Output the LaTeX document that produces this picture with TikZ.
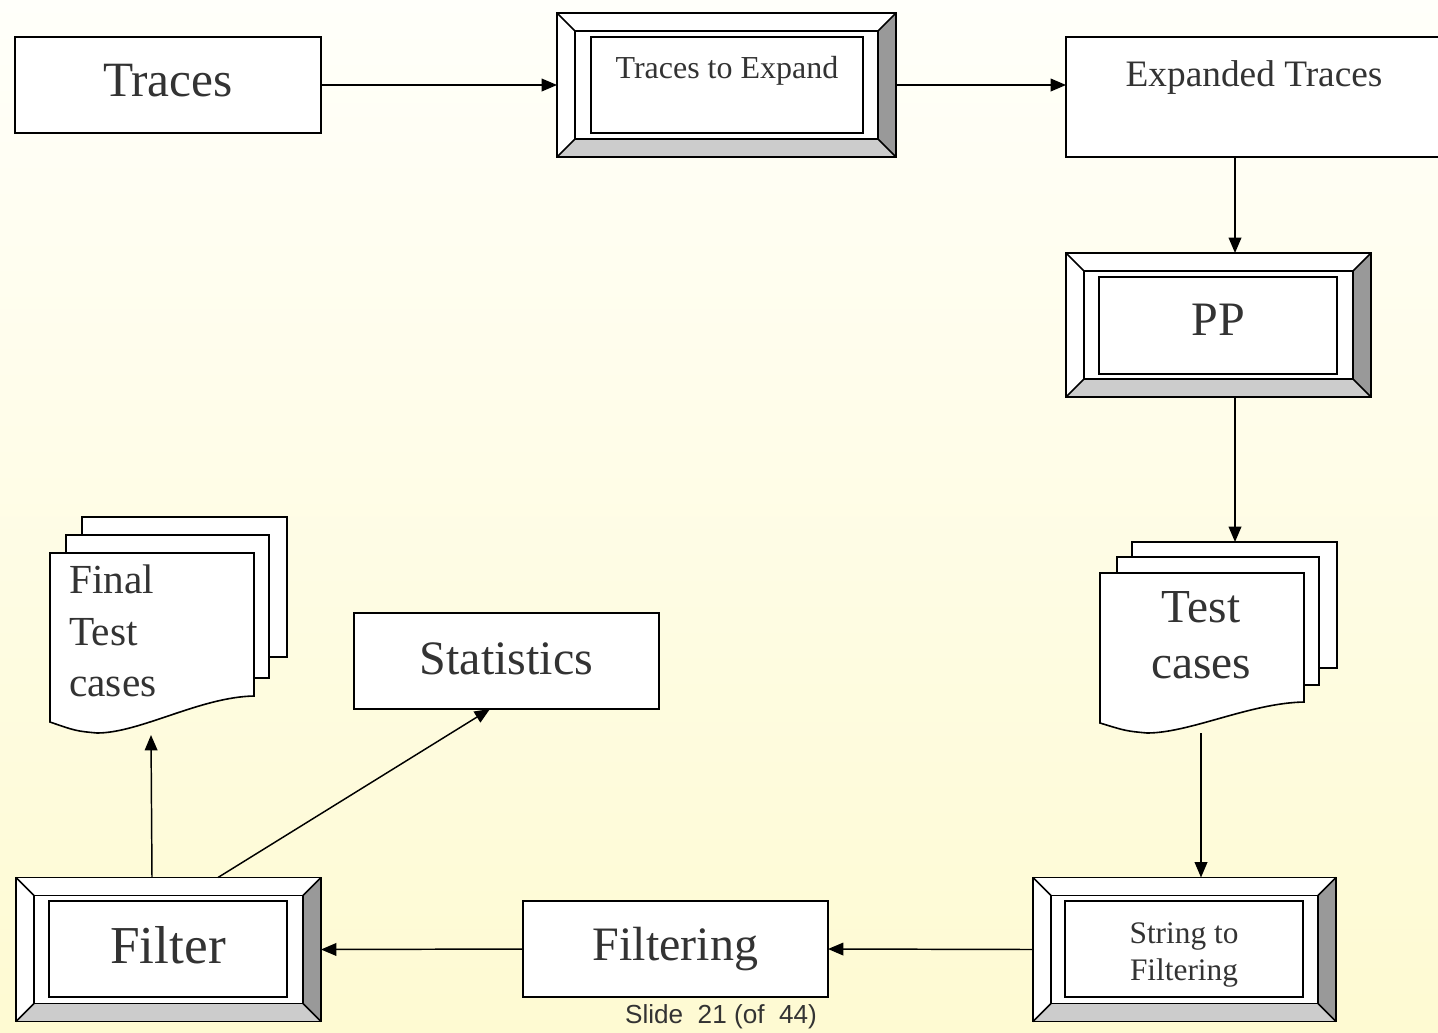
\documentclass[tikz,border=0pt]{standalone}
\usepackage{fontspec}
\setmainfont{Liberation Serif}
\newfontfamily\footfont{Liberation Sans}
\usetikzlibrary{arrows.meta,calc}

\definecolor{bgtop}{RGB}{255,255,250}
\definecolor{bgbot}{RGB}{254,250,210}
\definecolor{ink}{RGB}{51,51,51}
\definecolor{bevside}{RGB}{153,153,153}
\definecolor{bevbase}{RGB}{204,204,204}

% bevel width of the framed process boxes
\newcommand\bw{13.5pt}

% shaded right/bottom faces, inner frame and corner mitres of a bevelled box
\newcommand\bevelpanels[1]{%
  \path[fill=bevside] (#1.north east) -- (#1.south east)
     -- ([shift={(-\bw,\bw)}]#1.south east) -- ([shift={(-\bw,-\bw)}]#1.north east) -- cycle;
  \path[fill=bevbase] (#1.south west) -- (#1.south east)
     -- ([shift={(-\bw,\bw)}]#1.south east) -- ([shift={(\bw,\bw)}]#1.south west) -- cycle;
  \draw[edge] ([shift={(\bw,-\bw)}]#1.north west) rectangle ([shift={(-\bw,\bw)}]#1.south east);
  \draw[edge] (#1.north west) -- ++(\bw,-\bw);
  \draw[edge] (#1.north east) -- ++(-\bw,-\bw);
  \draw[edge] (#1.south west) -- ++(\bw,\bw);
  \draw[edge] (#1.south east) -- ++(-\bw,\bw);
  \draw[edge] (#1.north west) rectangle (#1.south east);
}

\tikzset{
  edge/.style={draw=black, line width=1.2pt},
  plainbox/.style={edge, fill=white, inner sep=0pt, outer sep=0pt, text=ink},
  bevelbox/.style={edge, fill=white, inner sep=0pt, outer sep=0pt,
    minimum height=108pt},
  innerbox/.style={edge, fill=white, inner sep=0pt, outer sep=0pt, text=ink,
    minimum width=178.5pt, minimum height=72pt},
  sheet/.style={edge, fill=white},
  flow/.style={draw=black, line width=1.1pt, -{Triangle[length=11.5pt,width=9.5pt]}},
  label/.style={text=ink, inner sep=0pt},
}

\begin{document}
\begin{tikzpicture}[x=0.75pt, y=-0.75pt]
  % page background
  \useasboundingbox (0,0) rectangle (1438,1032);
  \shade[top color=bgtop, bottom color=bgbot] (0,0) rectangle (1438,1032);

  % ---- top row ----
  \node[plainbox, minimum width=229.5pt, minimum height=72pt,
        text height=44.25pt, text depth=27.75pt,
        font=\fontsize{37}{44}\selectfont] (traces) at (168,85) {Traces};

  \node[bevelbox, minimum width=254.25pt] (tte) at (726.5,85) {};
  \bevelpanels{tte}
  \node[innerbox, minimum width=204pt, text height=30.75pt, text depth=41.25pt,
        font=\fontsize{24}{29}\selectfont] (ttein) at (727,85) {Traces to Expand};

  \node[plainbox, minimum width=282pt, minimum height=90pt,
        text height=36.75pt, text depth=53.25pt,
        font=\fontsize{28}{34}\selectfont] (exp) at (1254,97) {Expanded Traces};

  % ---- right column ----
  \node[bevelbox, minimum width=228.75pt] (pp) at (1218.5,325) {};
  \bevelpanels{pp}
  \node[innerbox, minimum height=72.75pt, text height=43.5pt, text depth=29.25pt,
        font=\fontsize{36}{43}\selectfont] (ppin) at (1218,325.5) {PP};

  % stacked test-case documents
  \node[sheet, minimum width=153.75pt, minimum height=94.5pt, inner sep=0pt, outer sep=0pt]
        (tcback) at (1234.5,605) {};
  \draw[sheet] (1117,557) rectangle (1319,685);
  \draw[sheet] (1100,573) -- (1304,573) -- (1304,702)
     .. controls (1250,703) and (1190,733) .. (1147,733)
     .. controls (1126,731) .. (1100,723) -- cycle;
  \node[label, align=center, font=\fontsize{35.5}{42}\selectfont] (tctext) at (1201,635)
        {Test\\cases};
  \coordinate (tcbot) at (1201,733);

  \node[bevelbox, minimum width=227.25pt] (str) at (1184.5,949.5) {};
  \bevelpanels{str}
  \node[innerbox] (strin) at (1184,949) {};
  \node[label, align=center, font=\fontsize{23.5}{27.75}\selectfont] (strtext)
        at (1184,955) {String to\\Filtering};

  % ---- bottom row ----
  \node[plainbox, minimum width=228.75pt, minimum height=72pt,
        text height=44.25pt, text depth=27.75pt,
        font=\fontsize{36}{43}\selectfont] (filtering) at (675.5,949) {Filtering};

  \node[bevelbox, minimum width=228.75pt] (filter) at (168.5,949.5) {};
  \bevelpanels{filter}
  \node[innerbox, text height=46.5pt, text depth=25.5pt,
        font=\fontsize{40}{48}\selectfont] (filterin) at (168,949) {Filter};

  % ---- left outputs ----
  \draw[sheet] (82,517) rectangle (287,657);
  \draw[sheet] (66,535) rectangle (269,678);
  \draw[sheet] (50,553) -- (254,553) -- (254,696)
     .. controls (200,697) and (140,733) .. (97,733)
     .. controls (76,731) .. (50,722) -- cycle;
  \node[label, align=left, anchor=west, font=\fontsize{31}{38.5}\selectfont] (final)
        at (69,631) {Final\\Test\\cases};
  \coordinate (fbot) at (151,735);

  \node[plainbox, minimum width=228.75pt, minimum height=72pt,
        text height=45.75pt, text depth=26.25pt,
        font=\fontsize{36}{43}\selectfont] (stats) at (506.5,661) {Statistics};

  % ---- connectors ----
  \coordinate (colR) at (1235,0);
  \draw[flow] (traces.east) -- (tte.west);
  \draw[flow] (tte.east) -- (tte.east -| exp.west);
  \draw[flow] (exp.south -| colR) -- (pp.north -| colR);
  \draw[flow] (pp.south -| colR) -- (tcback.north -| colR);
  \draw[flow] (tcbot) -- (tcbot |- str.north);
  \draw[flow] (str.west) -- (filtering.east);
  \draw[flow] (filtering.west) -- (filter.east);
  \draw[flow] ([xshift=0.75pt]fbot |- filter.north) -- (fbot);
  \draw[flow] ([xshift=37.1pt]filter.north) -- ([xshift=-12.4pt]stats.south);

  % footer
  \node[label, anchor=base, font=\footfont\fontsize{19.6}{24}\selectfont] (footer)
        at (721,1023) {Slide\ \ 21 (of\ \ 44)};
\end{tikzpicture}
\end{document}
